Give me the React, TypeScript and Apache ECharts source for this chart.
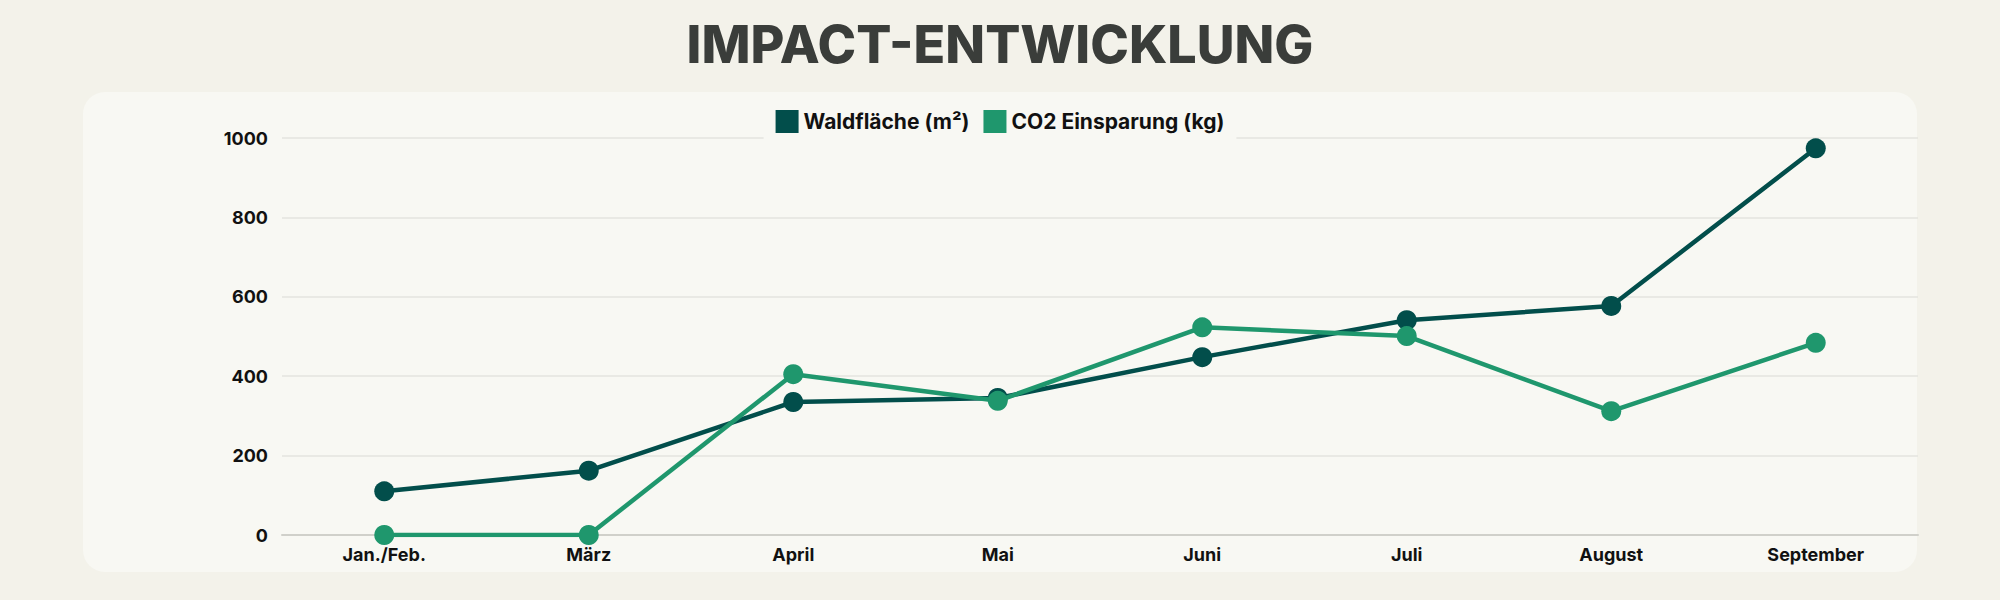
import React, { useEffect, useRef } from "react";
import * as echarts from "echarts";

const title = "IMPACT-ENTWICKLUNG";
const categories = ["Jan./Feb.", "März", "April", "Mai", "Juni", "Juli", "August", "September"];
const seriesNames = ["Waldfläche (m²)", "CO2 Einsparung (kg)"];
const waldflaeche = [110, 162, 335, 345, 448, 541, 577, 974];
const co2 = [0, 0, 405, 338, 523, 501, 312, 484];
const yTicks = { min: 0, max: 1000, interval: 200 };

const FONT = "Inter, 'Noto Sans', sans-serif";

export default function App() {
  const ref = useRef<HTMLDivElement>(null);
  useEffect(() => {
    if (!ref.current) return;
    const chart = echarts.init(ref.current, null, { renderer: "svg" });
    chart.setOption({
      animation: false,
      backgroundColor: "#f3f2ea",
      title: {
        text: title,
        left: "center",
        top: 13,
        textStyle: { fontFamily: FONT, fontWeight: 800, fontSize: 52, color: "#3a3d3a" },
      },
      graphic: [
        {
          type: "rect",
          z: -10,
          shape: { x: 83, y: 92, width: 1834, height: 480, r: 22 },
          style: { fill: "#f8f8f3" },
        },
      ],
      legend: {
        data: seriesNames,
        top: 104,
        left: "center",
        icon: "rect",
        itemWidth: 23,
        itemHeight: 23,
        itemGap: 14,
        padding: [6, 12],
        backgroundColor: "#f8f8f3",
        textStyle: { fontFamily: FONT, fontWeight: 700, fontSize: 21, color: "#111" },
      },
      grid: { left: 282, right: 82, top: 138, bottom: 65 },
      xAxis: {
        type: "category",
        data: categories,
        boundaryGap: true,
        axisTick: { show: false },
        axisLine: { lineStyle: { color: "#d0d0ca", width: 2 } },
        axisLabel: { fontFamily: FONT, fontWeight: 700, fontSize: 18, color: "#111", margin: 10 },
      },
      yAxis: {
        type: "value",
        min: yTicks.min,
        max: yTicks.max,
        interval: yTicks.interval,
        axisLine: { show: false },
        axisTick: { show: false },
        splitLine: { lineStyle: { color: "#e5e5df", width: 1.5 } },
        axisLabel: {
          fontFamily: FONT,
          fontWeight: 700,
          fontSize: 18,
          color: "#111",
          margin: 14,
          formatter: (v: number) => String(v),
        },
      },
      series: [
        {
          name: seriesNames[0],
          type: "line",
          data: waldflaeche,
          symbol: "circle",
          symbolSize: 20,
          lineStyle: { width: 4.5, color: "#024e4b" },
          itemStyle: { color: "#024e4b" },
          z: 2,
        },
        {
          name: seriesNames[1],
          type: "line",
          data: co2,
          symbol: "circle",
          symbolSize: 20,
          lineStyle: { width: 4.5, color: "#1f976d" },
          itemStyle: { color: "#1f976d" },
          z: 3,
        },
      ],
    });
    return () => chart.dispose();
  }, []);
  return (
    <div
      ref={ref}
      style={{ position: "fixed", left: 0, top: 0, width: 2000, height: 600 }}
    />
  );
}
